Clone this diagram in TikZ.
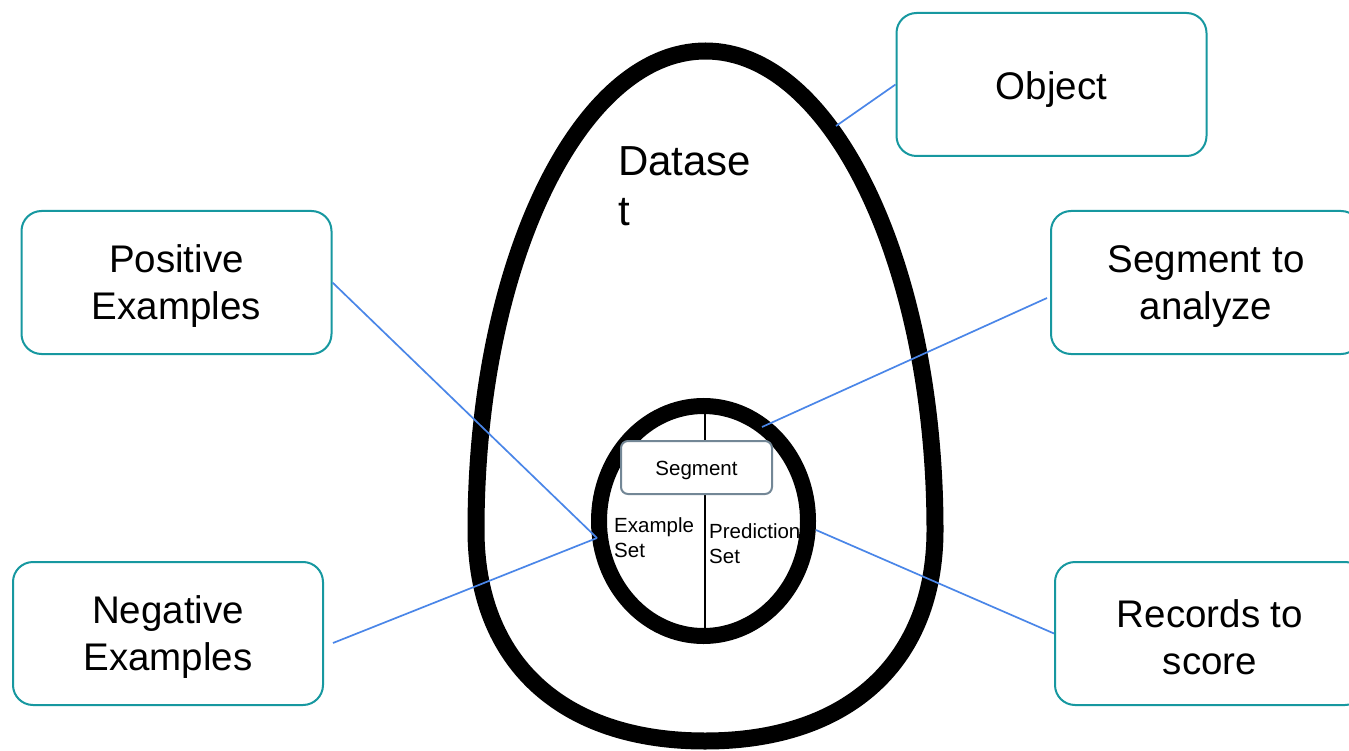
\documentclass[tikz,border=0pt]{standalone}
\usepackage{fontspec}
\setmainfont{Liberation Sans}
\definecolor{boxteal}{RGB}{23,152,160}
\definecolor{segslate}{RGB}{115,135,150}
\definecolor{linkblue}{RGB}{74,134,232}
\begin{document}
\begin{tikzpicture}[x=1pt,y=-1pt,
  tealbox/.style={draw=boxteal, line width=2pt, rounded corners=20pt, fill=white,
    minimum width=310pt, minimum height=143pt, inner sep=0pt},
  boxtext/.style={align=center, inner sep=0pt, font=\fontsize{38.5}{47}\selectfont},
  link/.style={draw=linkblue, line width=1.7pt},
  ring/.style={draw=black, line width=16pt},
  smalltext/.style={font=\fontsize{20.5}{25}\selectfont, align=left, inner sep=0pt, anchor=north west}
]
\useasboundingbox (0,0) rectangle (1349,751);
\clip (0,0) rectangle (1349,751);
\fill[white] (0,0) rectangle (1349,751);

% the egg: narrow upper half-ellipse, fuller lower half
\draw[ring, line width=17pt] (476,530)
  arc[start angle=180, end angle=360, x radius=229.5, y radius=479]
  .. controls (935,660) and (850,741) .. (705,741)
  .. controls (560,741) and (476,660) .. (476,530) -- cycle;

% inner circle split in two halves
\coordinate (ctop) at (705,406);
\coordinate (cbot) at (705,636);
\draw[line width=1.5pt] (ctop) -- (cbot);
\draw[ring] (703.5,521) ellipse [x radius=104.5, y radius=115];

\node[draw=segslate, line width=2pt, rounded corners=7pt, fill=white,
  minimum width=151pt, minimum height=53pt, inner sep=0pt,
  font=\fontsize{20.5}{25}\selectfont, execute at begin node={\rule{0pt}{20pt}}]
  (seg) at (696.5,467.5) {Segment};

\node[smalltext] (exset) at (614,517) {Example\\Set};
\node[smalltext] (predset) at (709,523.5) {Prediction\\Set};

\node[font=\fontsize{42}{50}\selectfont, align=left, inner sep=0pt, anchor=north west]
  (dataset) at (618,146.5) {Datase\\t};

% labels around the egg: frame, then its text set a little low
\node[tealbox] (obj) at (1051.5,84.5) {};
\node[tealbox] (pos) at (176.5,282.5) {};
\node[tealbox] (segan) at (1206,282.5) {};
\node[tealbox] (neg) at (168,633.5) {};
\node[tealbox] (rec) at (1210,633.5) {};
\node[boxtext] (objtext) at ([yshift=-5pt]obj.center) {Object};
\node[boxtext] (postext) at ([yshift=-4pt]pos.center) {Positive\\Examples};
\node[boxtext] (segantext) at ([yshift=-4pt]segan.center) {Segment to\\analyze};
\node[boxtext] (negtext) at ([yshift=-4pt]neg.center) {Negative\\Examples};
\node[boxtext] (rectext) at ([yshift=-4pt]rec.center) {Records to\\score};

% connectors
\coordinate (objtip) at (836,126);
\coordinate (extip) at (597,538);
\coordinate (negtip) at (333,643);
\coordinate (segtip) at (762,427);
\coordinate (segend) at (1047,298);
\coordinate (rectip) at (816,530);
\draw[link] (obj.west) -- (objtip);
\draw[link] (pos.east) -- (extip);
\draw[link] (negtip) -- (extip);
\draw[link] (segend) -- (segtip);
\draw[link] (rec.west) -- (rectip);
\end{tikzpicture}
\end{document}
